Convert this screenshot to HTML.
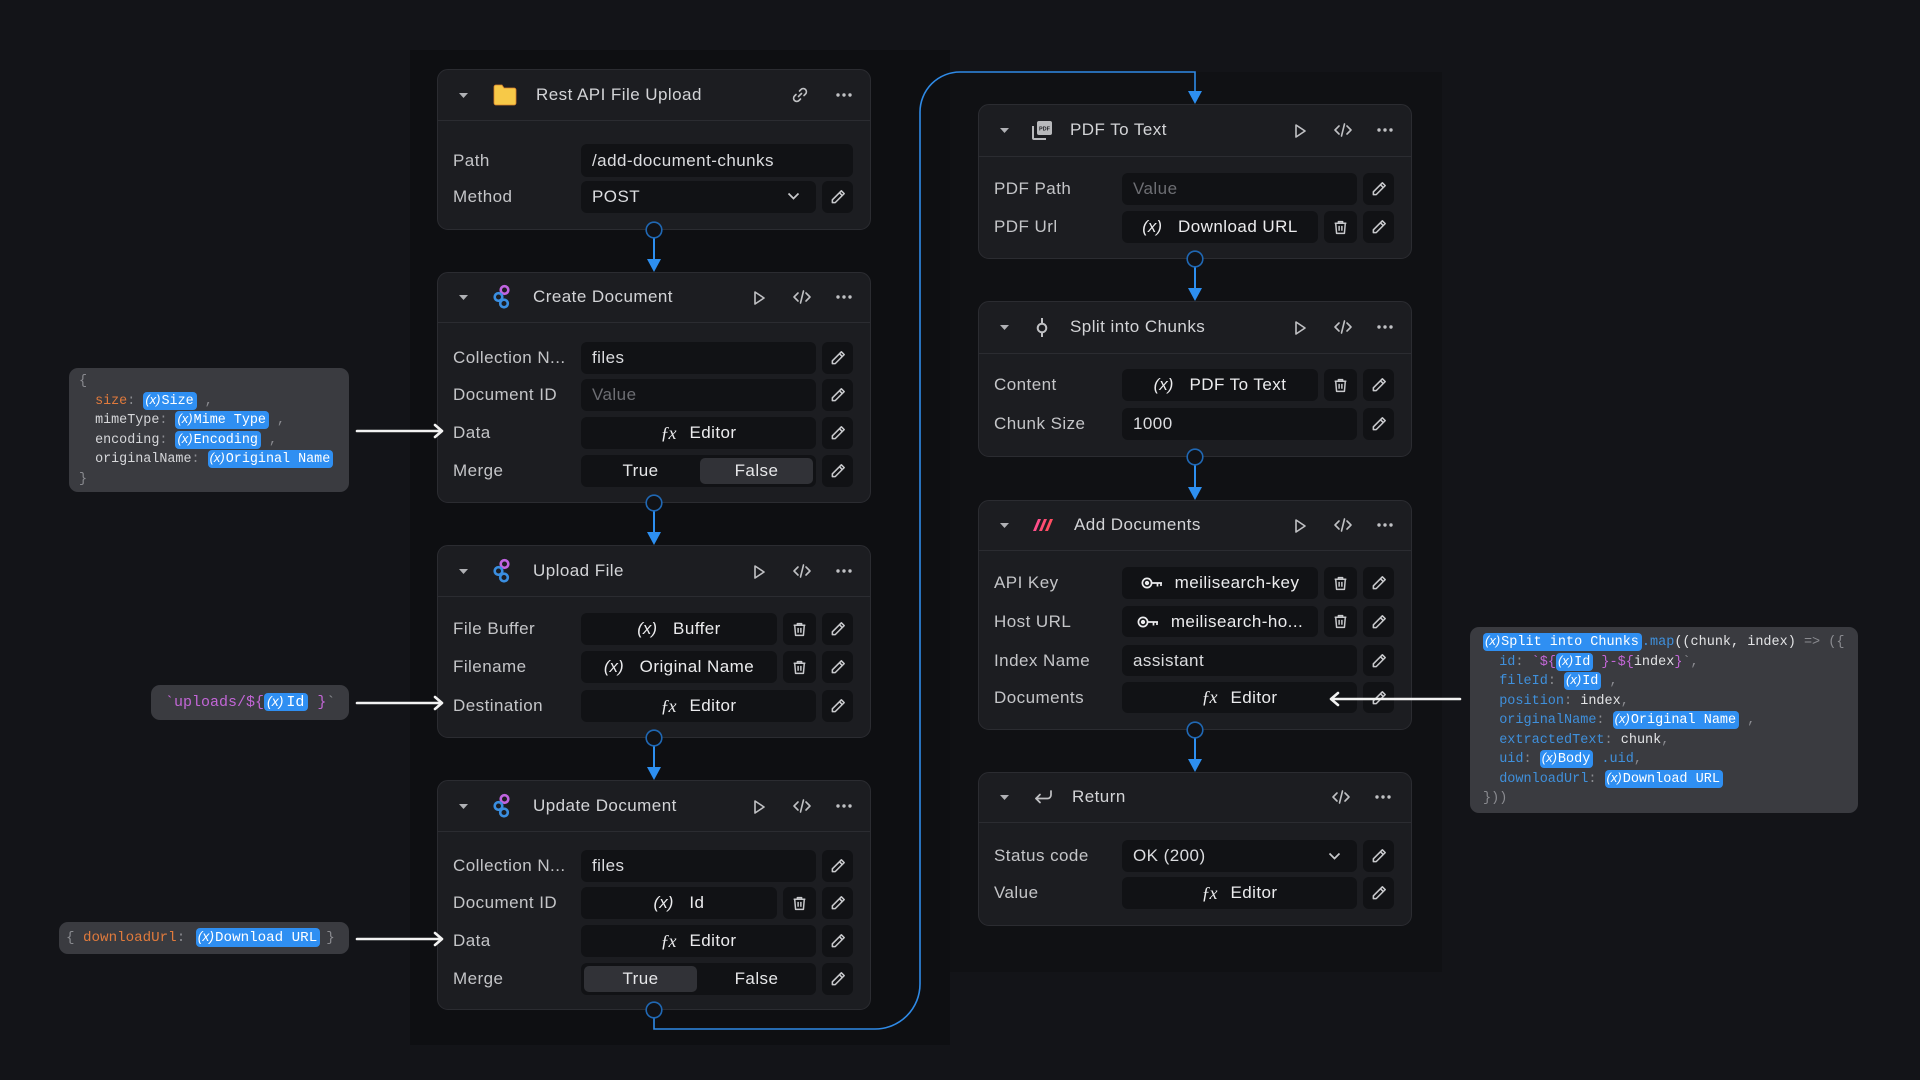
<!DOCTYPE html>
<html>
<head>
<meta charset="utf-8">
<style>
*{box-sizing:border-box}
body{margin:0;width:1920px;height:1080px;background:#131418;position:relative;overflow:hidden;font-family:"Liberation Sans",sans-serif;}
.panel{position:absolute}
.card{position:absolute;width:434px;background:#1c1d21;border:1px solid #2b2c31;border-radius:11px;}
.hdiv{position:absolute;left:0;right:0;height:1px;background:#2b2c31}
.ttl{position:absolute;font-size:17px;color:#d3d4d7;letter-spacing:0.45px;line-height:20px;white-space:nowrap}
.hi{position:absolute}
.row{position:absolute;left:0;width:432px;height:32px}
.lbl{position:absolute;left:15px;top:0;line-height:32px;font-size:17px;color:#c4c5c8;letter-spacing:0.45px;white-space:nowrap}
.box{position:absolute;top:0;height:100%;background:#111215;border-radius:6px;font-size:17px;color:#dcdde0;line-height:32px;letter-spacing:0.45px;white-space:nowrap}
.v{left:143px;width:272px;padding-left:11px}
.vs{left:143px;width:235px}
.vt{left:143px;width:196px}
.tr{left:345px;width:33px;display:flex;align-items:center;justify-content:center}
.ed{left:384px;width:31px;display:flex;align-items:center;justify-content:center}
.pl{padding-left:11px}
.ph{color:#6d6e73}
.c{display:flex;align-items:center;justify-content:center;color:#ececee}
.xv{font-style:italic;margin-right:16px;letter-spacing:0}
.fx{font-family:"Liberation Serif",serif;font-style:italic;margin-right:14px;font-size:18px;letter-spacing:-1px}
.seg{position:absolute;top:3px;height:26px;width:113px;border-radius:5px;text-align:center;line-height:26px;color:#e6e7e9}
.seg.on{background:#313237}
.note{position:absolute;background:#3a3b40;border-radius:9px;font-family:"Liberation Mono",monospace;font-size:13.4px;color:#d6d7da;white-space:pre;line-height:19.5px}
.pill{display:inline-block;background:#2f8ff2;color:#fff;border-radius:4px;line-height:16px;padding:0 3px 0 2px;vertical-align:0px}
.pill i{font-family:"Liberation Sans",sans-serif;font-size:13px;font-style:italic;margin-right:1px}
.g{color:#8a8b90}
.o{color:#e07a3c}
.p{color:#c266d6}
.b{color:#3f90dc}
.w{color:#e3e4e6}
</style>
</head>
<body>

<!-- background panels -->
<div class="panel" style="left:410px;top:50px;width:540px;height:995px;background:#0e0f12"></div>
<div class="panel" style="left:950px;top:72px;width:492px;height:900px;background:#101114"></div>

<!-- ============ LEFT COLUMN ============ -->
<!-- Card L1 -->
<div class="card" style="left:437px;top:69px;height:161px">
  <div class="hdiv" style="top:50px"></div>
  <svg class="hi" style="left:21px;top:23px" width="9" height="5" viewBox="0 0 9 5"><path d="M0 0h9L4.5 5z" fill="#b0b1b5"/></svg>
  <svg class="hi" style="left:55px;top:14px" width="24" height="22" viewBox="0 0 24 22"><path d="M1 3a2 2 0 0 1 2-2h6l2 3h10a2 2 0 0 1 2 2v13a2 2 0 0 1-2 2H3a2 2 0 0 1-2-2z" fill="#f7c948" stroke="#d9822b" stroke-width="0.8"/></svg>
  <div class="ttl" style="left:98px;top:15px">Rest API File Upload</div>
  <svg class="hi" style="left:353px;top:16px" width="18" height="18" viewBox="0 0 18 18" fill="none" stroke="#c0c1c4" stroke-width="1.6" stroke-linecap="round"><path d="M7.5 10.5l3-3"/><path d="M8.5 5l1.5-1.5a3 3 0 0 1 4.5 4.5L13 9.5"/><path d="M9.5 13L8 14.5a3 3 0 0 1-4.5-4.5L5 8.5"/></svg>
  <svg class="hi" style="left:398px;top:23px" width="16" height="4" viewBox="0 0 16 4"><circle cx="2" cy="2" r="1.7" fill="#c0c1c4"/><circle cx="8" cy="2" r="1.7" fill="#c0c1c4"/><circle cx="14" cy="2" r="1.7" fill="#c0c1c4"/></svg>
  <div class="row" style="top:74px;height:33px"><div class="lbl" style="line-height:33px">Path</div><div class="box v" style="line-height:33px">/add-document-chunks</div></div>
  <div class="row" style="top:111px"><div class="lbl">Method</div><div class="box vs pl">POST<svg style="position:absolute;left:206px;top:11px" width="13" height="8" viewBox="0 0 13 8"><path d="M1.5 1.5l5 5 5-5" fill="none" stroke="#c8c9cc" stroke-width="1.7"/></svg></div><div class="box ed"><svg width="18" height="18" viewBox="0 0 16 16" fill="none" stroke="#c8c9cc" stroke-width="1.4" stroke-linejoin="round"><path d="M11 2.5l2.5 2.5L5.5 13H3v-2.5z"/><path d="M9.3 4.2l2.5 2.5"/></svg></div></div>
</div>

<!-- Card L2 -->
<div class="card" style="left:437px;top:272px;height:231px">
  <div class="hdiv" style="top:49px"></div>
  <svg class="hi" style="left:21px;top:22px" width="9" height="5" viewBox="0 0 9 5"><path d="M0 0h9L4.5 5z" fill="#b0b1b5"/></svg>
  <svg class="hi" style="left:54px;top:11px" width="20" height="26" viewBox="0 0 20 26" fill="none" stroke-width="2.6"><circle cx="12.5" cy="6" r="3.8" stroke="#c064e0"/><circle cx="6.5" cy="13" r="3.8" stroke="#3a8ee0"/><circle cx="12" cy="19.5" r="3.8" stroke="#3a8ee0"/></svg>
  <div class="ttl" style="left:95px;top:14px">Create Document</div>
  <svg class="hi" style="left:315px;top:17px" width="13" height="16" viewBox="0 0 13 16"><path d="M2 2l9 6-9 6z" fill="none" stroke="#c0c1c4" stroke-width="1.6" stroke-linejoin="round"/></svg>
  <svg class="hi" style="left:354px;top:16px" width="20" height="16" viewBox="0 0 20 16" fill="none" stroke="#c0c1c4" stroke-width="1.6" stroke-linecap="round" stroke-linejoin="round"><path d="M6 4L2 8l4 4M14 4l4 4-4 4M11.5 2l-3 12"/></svg>
  <svg class="hi" style="left:398px;top:22px" width="16" height="4" viewBox="0 0 16 4"><circle cx="2" cy="2" r="1.7" fill="#c0c1c4"/><circle cx="8" cy="2" r="1.7" fill="#c0c1c4"/><circle cx="14" cy="2" r="1.7" fill="#c0c1c4"/></svg>
  <div class="row" style="top:69px"><div class="lbl">Collection N...</div><div class="box vs pl">files</div><div class="box ed"><svg width="18" height="18" viewBox="0 0 16 16" fill="none" stroke="#c8c9cc" stroke-width="1.4" stroke-linejoin="round"><path d="M11 2.5l2.5 2.5L5.5 13H3v-2.5z"/><path d="M9.3 4.2l2.5 2.5"/></svg></div></div>
  <div class="row" style="top:106px"><div class="lbl">Document ID</div><div class="box vs pl ph">Value</div><div class="box ed"><svg width="18" height="18" viewBox="0 0 16 16" fill="none" stroke="#c8c9cc" stroke-width="1.4" stroke-linejoin="round"><path d="M11 2.5l2.5 2.5L5.5 13H3v-2.5z"/><path d="M9.3 4.2l2.5 2.5"/></svg></div></div>
  <div class="row" style="top:144px"><div class="lbl">Data</div><div class="box vs c"><span class="fx">ƒx</span>Editor</div><div class="box ed"><svg width="18" height="18" viewBox="0 0 16 16" fill="none" stroke="#c8c9cc" stroke-width="1.4" stroke-linejoin="round"><path d="M11 2.5l2.5 2.5L5.5 13H3v-2.5z"/><path d="M9.3 4.2l2.5 2.5"/></svg></div></div>
  <div class="row" style="top:182px"><div class="lbl">Merge</div><div class="box vs"><div class="seg" style="left:3px">True</div><div class="seg on" style="left:119px">False</div></div><div class="box ed"><svg width="18" height="18" viewBox="0 0 16 16" fill="none" stroke="#c8c9cc" stroke-width="1.4" stroke-linejoin="round"><path d="M11 2.5l2.5 2.5L5.5 13H3v-2.5z"/><path d="M9.3 4.2l2.5 2.5"/></svg></div></div>
</div>

<!-- Card L3 -->
<div class="card" style="left:437px;top:545px;height:193px">
  <div class="hdiv" style="top:50px"></div>
  <svg class="hi" style="left:21px;top:23px" width="9" height="5" viewBox="0 0 9 5"><path d="M0 0h9L4.5 5z" fill="#b0b1b5"/></svg>
  <svg class="hi" style="left:54px;top:12px" width="20" height="26" viewBox="0 0 20 26" fill="none" stroke-width="2.6"><circle cx="12.5" cy="6" r="3.8" stroke="#c064e0"/><circle cx="6.5" cy="13" r="3.8" stroke="#3a8ee0"/><circle cx="12" cy="19.5" r="3.8" stroke="#3a8ee0"/></svg>
  <div class="ttl" style="left:95px;top:15px">Upload File</div>
  <svg class="hi" style="left:315px;top:18px" width="13" height="16" viewBox="0 0 13 16"><path d="M2 2l9 6-9 6z" fill="none" stroke="#c0c1c4" stroke-width="1.6" stroke-linejoin="round"/></svg>
  <svg class="hi" style="left:354px;top:17px" width="20" height="16" viewBox="0 0 20 16" fill="none" stroke="#c0c1c4" stroke-width="1.6" stroke-linecap="round" stroke-linejoin="round"><path d="M6 4L2 8l4 4M14 4l4 4-4 4M11.5 2l-3 12"/></svg>
  <svg class="hi" style="left:398px;top:23px" width="16" height="4" viewBox="0 0 16 4"><circle cx="2" cy="2" r="1.7" fill="#c0c1c4"/><circle cx="8" cy="2" r="1.7" fill="#c0c1c4"/><circle cx="14" cy="2" r="1.7" fill="#c0c1c4"/></svg>
  <div class="row" style="top:67px"><div class="lbl">File Buffer</div><div class="box vt c"><span class="xv">(x)</span>Buffer</div><div class="box tr"><svg width="17" height="17" viewBox="0 0 16 16" fill="none" stroke="#c8c9cc" stroke-width="1.4" stroke-linejoin="round"><path d="M2.5 4h11M6 4V2.5h4V4M3.5 4l.8 9.5h7.4l.8-9.5M6.7 6.5v4.5M9.3 6.5v4.5"/></svg></div><div class="box ed"><svg width="18" height="18" viewBox="0 0 16 16" fill="none" stroke="#c8c9cc" stroke-width="1.4" stroke-linejoin="round"><path d="M11 2.5l2.5 2.5L5.5 13H3v-2.5z"/><path d="M9.3 4.2l2.5 2.5"/></svg></div></div>
  <div class="row" style="top:105px"><div class="lbl">Filename</div><div class="box vt c"><span class="xv">(x)</span>Original Name</div><div class="box tr"><svg width="17" height="17" viewBox="0 0 16 16" fill="none" stroke="#c8c9cc" stroke-width="1.4" stroke-linejoin="round"><path d="M2.5 4h11M6 4V2.5h4V4M3.5 4l.8 9.5h7.4l.8-9.5M6.7 6.5v4.5M9.3 6.5v4.5"/></svg></div><div class="box ed"><svg width="18" height="18" viewBox="0 0 16 16" fill="none" stroke="#c8c9cc" stroke-width="1.4" stroke-linejoin="round"><path d="M11 2.5l2.5 2.5L5.5 13H3v-2.5z"/><path d="M9.3 4.2l2.5 2.5"/></svg></div></div>
  <div class="row" style="top:144px"><div class="lbl">Destination</div><div class="box vs c"><span class="fx">ƒx</span>Editor</div><div class="box ed"><svg width="18" height="18" viewBox="0 0 16 16" fill="none" stroke="#c8c9cc" stroke-width="1.4" stroke-linejoin="round"><path d="M11 2.5l2.5 2.5L5.5 13H3v-2.5z"/><path d="M9.3 4.2l2.5 2.5"/></svg></div></div>
</div>

<!-- Card L4 -->
<div class="card" style="left:437px;top:780px;height:230px">
  <div class="hdiv" style="top:50px"></div>
  <svg class="hi" style="left:21px;top:23px" width="9" height="5" viewBox="0 0 9 5"><path d="M0 0h9L4.5 5z" fill="#b0b1b5"/></svg>
  <svg class="hi" style="left:54px;top:12px" width="20" height="26" viewBox="0 0 20 26" fill="none" stroke-width="2.6"><circle cx="12.5" cy="6" r="3.8" stroke="#c064e0"/><circle cx="6.5" cy="13" r="3.8" stroke="#3a8ee0"/><circle cx="12" cy="19.5" r="3.8" stroke="#3a8ee0"/></svg>
  <div class="ttl" style="left:95px;top:15px">Update Document</div>
  <svg class="hi" style="left:315px;top:18px" width="13" height="16" viewBox="0 0 13 16"><path d="M2 2l9 6-9 6z" fill="none" stroke="#c0c1c4" stroke-width="1.6" stroke-linejoin="round"/></svg>
  <svg class="hi" style="left:354px;top:17px" width="20" height="16" viewBox="0 0 20 16" fill="none" stroke="#c0c1c4" stroke-width="1.6" stroke-linecap="round" stroke-linejoin="round"><path d="M6 4L2 8l4 4M14 4l4 4-4 4M11.5 2l-3 12"/></svg>
  <svg class="hi" style="left:398px;top:23px" width="16" height="4" viewBox="0 0 16 4"><circle cx="2" cy="2" r="1.7" fill="#c0c1c4"/><circle cx="8" cy="2" r="1.7" fill="#c0c1c4"/><circle cx="14" cy="2" r="1.7" fill="#c0c1c4"/></svg>
  <div class="row" style="top:69px"><div class="lbl">Collection N...</div><div class="box vs pl">files</div><div class="box ed"><svg width="18" height="18" viewBox="0 0 16 16" fill="none" stroke="#c8c9cc" stroke-width="1.4" stroke-linejoin="round"><path d="M11 2.5l2.5 2.5L5.5 13H3v-2.5z"/><path d="M9.3 4.2l2.5 2.5"/></svg></div></div>
  <div class="row" style="top:106px"><div class="lbl">Document ID</div><div class="box vt c"><span class="xv">(x)</span>Id</div><div class="box tr"><svg width="17" height="17" viewBox="0 0 16 16" fill="none" stroke="#c8c9cc" stroke-width="1.4" stroke-linejoin="round"><path d="M2.5 4h11M6 4V2.5h4V4M3.5 4l.8 9.5h7.4l.8-9.5M6.7 6.5v4.5M9.3 6.5v4.5"/></svg></div><div class="box ed"><svg width="18" height="18" viewBox="0 0 16 16" fill="none" stroke="#c8c9cc" stroke-width="1.4" stroke-linejoin="round"><path d="M11 2.5l2.5 2.5L5.5 13H3v-2.5z"/><path d="M9.3 4.2l2.5 2.5"/></svg></div></div>
  <div class="row" style="top:144px"><div class="lbl">Data</div><div class="box vs c"><span class="fx">ƒx</span>Editor</div><div class="box ed"><svg width="18" height="18" viewBox="0 0 16 16" fill="none" stroke="#c8c9cc" stroke-width="1.4" stroke-linejoin="round"><path d="M11 2.5l2.5 2.5L5.5 13H3v-2.5z"/><path d="M9.3 4.2l2.5 2.5"/></svg></div></div>
  <div class="row" style="top:182px"><div class="lbl">Merge</div><div class="box vs"><div class="seg on" style="left:3px">True</div><div class="seg" style="left:119px">False</div></div><div class="box ed"><svg width="18" height="18" viewBox="0 0 16 16" fill="none" stroke="#c8c9cc" stroke-width="1.4" stroke-linejoin="round"><path d="M11 2.5l2.5 2.5L5.5 13H3v-2.5z"/><path d="M9.3 4.2l2.5 2.5"/></svg></div></div>
</div>

<!-- ============ RIGHT COLUMN ============ -->
<!-- Card R1 -->
<div class="card" style="left:978px;top:104px;height:155px">
  <div class="hdiv" style="top:51px"></div>
  <svg class="hi" style="left:21px;top:23px" width="9" height="5" viewBox="0 0 9 5"><path d="M0 0h9L4.5 5z" fill="#b0b1b5"/></svg>
  <svg class="hi" style="left:52px;top:14px" width="22" height="22" viewBox="0 0 22 22"><path d="M2 7v12a1 1 0 0 0 1 1h12" fill="none" stroke="#b8b9bc" stroke-width="2"/><rect x="6" y="2" width="15" height="14" rx="2" fill="#b8b9bc"/><text x="13.5" y="11.5" font-family="Liberation Sans" font-size="5.5" font-weight="bold" fill="#1c1d21" text-anchor="middle">PDF</text></svg>
  <div class="ttl" style="left:91px;top:15px">PDF To Text</div>
  <svg class="hi" style="left:315px;top:18px" width="13" height="16" viewBox="0 0 13 16"><path d="M2 2l9 6-9 6z" fill="none" stroke="#c0c1c4" stroke-width="1.6" stroke-linejoin="round"/></svg>
  <svg class="hi" style="left:354px;top:17px" width="20" height="16" viewBox="0 0 20 16" fill="none" stroke="#c0c1c4" stroke-width="1.6" stroke-linecap="round" stroke-linejoin="round"><path d="M6 4L2 8l4 4M14 4l4 4-4 4M11.5 2l-3 12"/></svg>
  <svg class="hi" style="left:398px;top:23px" width="16" height="4" viewBox="0 0 16 4"><circle cx="2" cy="2" r="1.7" fill="#c0c1c4"/><circle cx="8" cy="2" r="1.7" fill="#c0c1c4"/><circle cx="14" cy="2" r="1.7" fill="#c0c1c4"/></svg>
  <div class="row" style="top:68px"><div class="lbl">PDF Path</div><div class="box vs pl ph">Value</div><div class="box ed"><svg width="18" height="18" viewBox="0 0 16 16" fill="none" stroke="#c8c9cc" stroke-width="1.4" stroke-linejoin="round"><path d="M11 2.5l2.5 2.5L5.5 13H3v-2.5z"/><path d="M9.3 4.2l2.5 2.5"/></svg></div></div>
  <div class="row" style="top:106px"><div class="lbl">PDF Url</div><div class="box vt c"><span class="xv">(x)</span>Download URL</div><div class="box tr"><svg width="17" height="17" viewBox="0 0 16 16" fill="none" stroke="#c8c9cc" stroke-width="1.4" stroke-linejoin="round"><path d="M2.5 4h11M6 4V2.5h4V4M3.5 4l.8 9.5h7.4l.8-9.5M6.7 6.5v4.5M9.3 6.5v4.5"/></svg></div><div class="box ed"><svg width="18" height="18" viewBox="0 0 16 16" fill="none" stroke="#c8c9cc" stroke-width="1.4" stroke-linejoin="round"><path d="M11 2.5l2.5 2.5L5.5 13H3v-2.5z"/><path d="M9.3 4.2l2.5 2.5"/></svg></div></div>
</div>

<!-- Card R2 -->
<div class="card" style="left:978px;top:301px;height:156px">
  <div class="hdiv" style="top:51px"></div>
  <svg class="hi" style="left:21px;top:23px" width="9" height="5" viewBox="0 0 9 5"><path d="M0 0h9L4.5 5z" fill="#b0b1b5"/></svg>
  <svg class="hi" style="left:56px;top:14px" width="14" height="22" viewBox="0 0 14 22" fill="none" stroke="#c0c1c4" stroke-width="2"><circle cx="7" cy="12" r="4.3"/><path d="M7 2v5.7M7 16.3V21"/></svg>
  <div class="ttl" style="left:91px;top:15px">Split into Chunks</div>
  <svg class="hi" style="left:315px;top:18px" width="13" height="16" viewBox="0 0 13 16"><path d="M2 2l9 6-9 6z" fill="none" stroke="#c0c1c4" stroke-width="1.6" stroke-linejoin="round"/></svg>
  <svg class="hi" style="left:354px;top:17px" width="20" height="16" viewBox="0 0 20 16" fill="none" stroke="#c0c1c4" stroke-width="1.6" stroke-linecap="round" stroke-linejoin="round"><path d="M6 4L2 8l4 4M14 4l4 4-4 4M11.5 2l-3 12"/></svg>
  <svg class="hi" style="left:398px;top:23px" width="16" height="4" viewBox="0 0 16 4"><circle cx="2" cy="2" r="1.7" fill="#c0c1c4"/><circle cx="8" cy="2" r="1.7" fill="#c0c1c4"/><circle cx="14" cy="2" r="1.7" fill="#c0c1c4"/></svg>
  <div class="row" style="top:67px"><div class="lbl">Content</div><div class="box vt c"><span class="xv">(x)</span>PDF To Text</div><div class="box tr"><svg width="17" height="17" viewBox="0 0 16 16" fill="none" stroke="#c8c9cc" stroke-width="1.4" stroke-linejoin="round"><path d="M2.5 4h11M6 4V2.5h4V4M3.5 4l.8 9.5h7.4l.8-9.5M6.7 6.5v4.5M9.3 6.5v4.5"/></svg></div><div class="box ed"><svg width="18" height="18" viewBox="0 0 16 16" fill="none" stroke="#c8c9cc" stroke-width="1.4" stroke-linejoin="round"><path d="M11 2.5l2.5 2.5L5.5 13H3v-2.5z"/><path d="M9.3 4.2l2.5 2.5"/></svg></div></div>
  <div class="row" style="top:106px"><div class="lbl">Chunk Size</div><div class="box vs pl">1000</div><div class="box ed"><svg width="18" height="18" viewBox="0 0 16 16" fill="none" stroke="#c8c9cc" stroke-width="1.4" stroke-linejoin="round"><path d="M11 2.5l2.5 2.5L5.5 13H3v-2.5z"/><path d="M9.3 4.2l2.5 2.5"/></svg></div></div>
</div>

<!-- Card R3 -->
<div class="card" style="left:978px;top:500px;height:230px">
  <div class="hdiv" style="top:49px"></div>
  <svg class="hi" style="left:21px;top:22px" width="9" height="5" viewBox="0 0 9 5"><path d="M0 0h9L4.5 5z" fill="#b0b1b5"/></svg>
  <svg class="hi" style="left:53px;top:17px" width="22" height="14" viewBox="0 0 22 14"><polygon points="1,13 6,1 9,1 4,13" fill="#ff4f8b"/><polygon points="7,13 12,1 15,1 10,13" fill="#ff4d74"/><polygon points="13,13 18,1 21,1 16,13" fill="#ff4e62"/></svg>
  <div class="ttl" style="left:95px;top:14px">Add Documents</div>
  <svg class="hi" style="left:315px;top:17px" width="13" height="16" viewBox="0 0 13 16"><path d="M2 2l9 6-9 6z" fill="none" stroke="#c0c1c4" stroke-width="1.6" stroke-linejoin="round"/></svg>
  <svg class="hi" style="left:354px;top:16px" width="20" height="16" viewBox="0 0 20 16" fill="none" stroke="#c0c1c4" stroke-width="1.6" stroke-linecap="round" stroke-linejoin="round"><path d="M6 4L2 8l4 4M14 4l4 4-4 4M11.5 2l-3 12"/></svg>
  <svg class="hi" style="left:398px;top:22px" width="16" height="4" viewBox="0 0 16 4"><circle cx="2" cy="2" r="1.7" fill="#c0c1c4"/><circle cx="8" cy="2" r="1.7" fill="#c0c1c4"/><circle cx="14" cy="2" r="1.7" fill="#c0c1c4"/></svg>
  <div class="row" style="top:66px"><div class="lbl">API Key</div><div class="box vt c"><svg style="margin-right:12px" width="22" height="14" viewBox="0 0 22 14" fill="none" stroke="#ececee" stroke-width="1.7"><circle cx="6" cy="7" r="4.6"/><circle cx="6" cy="7" r="1.3" fill="#ececee"/><path d="M10.6 7H21M16.5 7v3.5M20 7v3"/></svg>meilisearch-key</div><div class="box tr"><svg width="17" height="17" viewBox="0 0 16 16" fill="none" stroke="#c8c9cc" stroke-width="1.4" stroke-linejoin="round"><path d="M2.5 4h11M6 4V2.5h4V4M3.5 4l.8 9.5h7.4l.8-9.5M6.7 6.5v4.5M9.3 6.5v4.5"/></svg></div><div class="box ed"><svg width="18" height="18" viewBox="0 0 16 16" fill="none" stroke="#c8c9cc" stroke-width="1.4" stroke-linejoin="round"><path d="M11 2.5l2.5 2.5L5.5 13H3v-2.5z"/><path d="M9.3 4.2l2.5 2.5"/></svg></div></div>
  <div class="row" style="top:105px;height:31px"><div class="lbl" style="line-height:31px">Host URL</div><div class="box vt c" style="line-height:31px"><svg style="margin-right:12px" width="22" height="14" viewBox="0 0 22 14" fill="none" stroke="#ececee" stroke-width="1.7"><circle cx="6" cy="7" r="4.6"/><circle cx="6" cy="7" r="1.3" fill="#ececee"/><path d="M10.6 7H21M16.5 7v3.5M20 7v3"/></svg>meilisearch-ho...</div><div class="box tr"><svg width="17" height="17" viewBox="0 0 16 16" fill="none" stroke="#c8c9cc" stroke-width="1.4" stroke-linejoin="round"><path d="M2.5 4h11M6 4V2.5h4V4M3.5 4l.8 9.5h7.4l.8-9.5M6.7 6.5v4.5M9.3 6.5v4.5"/></svg></div><div class="box ed"><svg width="18" height="18" viewBox="0 0 16 16" fill="none" stroke="#c8c9cc" stroke-width="1.4" stroke-linejoin="round"><path d="M11 2.5l2.5 2.5L5.5 13H3v-2.5z"/><path d="M9.3 4.2l2.5 2.5"/></svg></div></div>
  <div class="row" style="top:144px;height:31px"><div class="lbl" style="line-height:31px">Index Name</div><div class="box vs pl" style="line-height:31px">assistant</div><div class="box ed"><svg width="18" height="18" viewBox="0 0 16 16" fill="none" stroke="#c8c9cc" stroke-width="1.4" stroke-linejoin="round"><path d="M11 2.5l2.5 2.5L5.5 13H3v-2.5z"/><path d="M9.3 4.2l2.5 2.5"/></svg></div></div>
  <div class="row" style="top:181px;height:31px"><div class="lbl" style="line-height:31px">Documents</div><div class="box vs c" style="line-height:31px"><span class="fx">ƒx</span>Editor</div><div class="box ed"><svg width="18" height="18" viewBox="0 0 16 16" fill="none" stroke="#c8c9cc" stroke-width="1.4" stroke-linejoin="round"><path d="M11 2.5l2.5 2.5L5.5 13H3v-2.5z"/><path d="M9.3 4.2l2.5 2.5"/></svg></div></div>
</div>

<!-- Card R4 -->
<div class="card" style="left:978px;top:772px;height:154px">
  <div class="hdiv" style="top:49px"></div>
  <svg class="hi" style="left:21px;top:22px" width="9" height="5" viewBox="0 0 9 5"><path d="M0 0h9L4.5 5z" fill="#b0b1b5"/></svg>
  <svg class="hi" style="left:54px;top:16px" width="22" height="16" viewBox="0 0 22 16" fill="none" stroke="#c0c1c4" stroke-width="1.7" stroke-linecap="round" stroke-linejoin="round"><path d="M18 2v4a3.5 3.5 0 0 1-3.5 3.5H3"/><path d="M7 5.5L3 9.5l4 4"/></svg>
  <div class="ttl" style="left:93px;top:14px">Return</div>
  <svg class="hi" style="left:352px;top:16px" width="20" height="16" viewBox="0 0 20 16" fill="none" stroke="#c0c1c4" stroke-width="1.6" stroke-linecap="round" stroke-linejoin="round"><path d="M6 4L2 8l4 4M14 4l4 4-4 4M11.5 2l-3 12"/></svg>
  <svg class="hi" style="left:396px;top:22px" width="16" height="4" viewBox="0 0 16 4"><circle cx="2" cy="2" r="1.7" fill="#c0c1c4"/><circle cx="8" cy="2" r="1.7" fill="#c0c1c4"/><circle cx="14" cy="2" r="1.7" fill="#c0c1c4"/></svg>
  <div class="row" style="top:67px"><div class="lbl">Status code</div><div class="box vs pl">OK (200)<svg style="position:absolute;left:206px;top:12px" width="13" height="8" viewBox="0 0 13 8"><path d="M1.5 1.5l5 5 5-5" fill="none" stroke="#c8c9cc" stroke-width="1.7"/></svg></div><div class="box ed"><svg width="18" height="18" viewBox="0 0 16 16" fill="none" stroke="#c8c9cc" stroke-width="1.4" stroke-linejoin="round"><path d="M11 2.5l2.5 2.5L5.5 13H3v-2.5z"/><path d="M9.3 4.2l2.5 2.5"/></svg></div></div>
  <div class="row" style="top:104px"><div class="lbl">Value</div><div class="box vs c"><span class="fx">ƒx</span>Editor</div><div class="box ed"><svg width="18" height="18" viewBox="0 0 16 16" fill="none" stroke="#c8c9cc" stroke-width="1.4" stroke-linejoin="round"><path d="M11 2.5l2.5 2.5L5.5 13H3v-2.5z"/><path d="M9.3 4.2l2.5 2.5"/></svg></div></div>
</div>

<!-- ============ ANNOTATIONS ============ -->
<div class="note" style="left:69px;top:368px;width:280px;height:124px;padding:4px 0 0 10px"><span class="g">{</span>
  <span class="o">size</span><span class="g">:</span> <span class="pill"><i>(x)</i>Size</span><span class="g"> ,</span>
  mimeType<span class="g">:</span> <span class="pill"><i>(x)</i>Mime Type</span><span class="g"> ,</span>
  encoding<span class="g">:</span> <span class="pill"><i>(x)</i>Encoding</span><span class="g"> ,</span>
  originalName<span class="g">:</span> <span class="pill"><i>(x)</i>Original Name</span>
<span class="g">}</span></div>

<div class="note" style="left:151px;top:685px;width:198px;height:35px;padding:8px 0 0 14px;line-height:19px;font-size:15px"><span class="p">`uploads/${</span><span class="pill" style="line-height:17px;padding:0 4px 0 3px"><i style="font-size:14px;margin-right:3px">(x)</i>Id</span><span class="p"> }</span><span class="g">`</span></div>

<div class="note" style="left:59px;top:922px;width:290px;height:32px;padding:6px 0 0 7px;line-height:20px;font-size:14.2px"><span class="g">{ </span><span class="o">downloadUrl</span><span class="g">:</span> <span class="pill" style="line-height:17px;margin-left:2px"><i style="font-size:14px">(x)</i>Download URL</span><span class="g" style="margin-left:6px">}</span></div>

<div class="note" style="left:1470px;top:627px;width:388px;height:186px;padding:6px 0 0 13px;font-size:13.5px"><span class="pill"><i>(x)</i>Split into Chunks</span><span class="b">.map</span><span class="w">((chunk, index)</span><span class="g"> =&gt; ({</span>
  <span class="b">id</span><span class="g">:</span> <span class="p">`${</span><span class="pill"><i>(x)</i>Id</span><span class="p"> }-${</span><span class="w">index</span><span class="p">}</span><span class="g">`,</span>
  <span class="b">fileId</span><span class="g">:</span> <span class="pill"><i>(x)</i>Id</span><span class="g"> ,</span>
  <span class="b">position</span><span class="g">:</span> <span class="w">index</span><span class="g">,</span>
  <span class="b">originalName</span><span class="g">:</span> <span class="pill"><i>(x)</i>Original Name</span><span class="g"> ,</span>
  <span class="b">extractedText</span><span class="g">:</span> <span class="w">chunk</span><span class="g">,</span>
  <span class="b">uid</span><span class="g">:</span> <span class="pill"><i>(x)</i>Body</span><span class="b"> .uid</span><span class="g">,</span>
  <span class="b">downloadUrl</span><span class="g">:</span> <span class="pill"><i>(x)</i>Download URL</span>
<span class="g">}))</span></div>

<!-- ============ WIRES / CONNECTORS ============ -->
<svg style="position:absolute;left:0;top:0" width="1920" height="1080" viewBox="0 0 1920 1080">
  <path d="M654 1018 V1029 H875 A45 45 0 0 0 920 984 V112 A40 40 0 0 1 960 72 H1195 V92" fill="none" stroke="#2f8ae6" stroke-width="1.6"/>
  <polygon points="1188,91 1202,91 1195,104" fill="#2d8ff0"/>

  <g stroke="#2d8ff0" stroke-width="2" fill="none">
    <path d="M654 238 V260"/><path d="M654 511 V533"/><path d="M654 746 V768"/>
    <path d="M1195 267 V289"/><path d="M1195 465 V488"/><path d="M1195 738 V760"/>
  </g>
  <g fill="#2d8ff0">
    <polygon points="647,259 661,259 654,272"/>
    <polygon points="647,532 661,532 654,545"/>
    <polygon points="647,767 661,767 654,780"/>
    <polygon points="1188,288 1202,288 1195,301"/>
    <polygon points="1188,487 1202,487 1195,500"/>
    <polygon points="1188,759 1202,759 1195,772"/>
  </g>
  <g fill="#111216" stroke="#2068b4" stroke-width="1.6">
    <circle cx="654" cy="230" r="7.8"/>
    <circle cx="654" cy="503" r="7.8"/>
    <circle cx="654" cy="738" r="7.8"/>
    <circle cx="654" cy="1010" r="7.8"/>
    <circle cx="1195" cy="259" r="7.8"/>
    <circle cx="1195" cy="457" r="7.8"/>
    <circle cx="1195" cy="730" r="7.8"/>
  </g>

  <g stroke="#f2f2f2" stroke-width="2.6" fill="none" stroke-linecap="round" stroke-linejoin="round">
    <path d="M357 431 H441"/><path d="M435 425 L442 431 L435 437"/>
    <path d="M357 703 H441"/><path d="M435 697 L442 703 L435 709"/>
    <path d="M357 939 H441"/><path d="M435 933 L442 939 L435 945"/>
    <path d="M1460 699 H1332"/><path d="M1338 693 L1331 699 L1338 705"/>
  </g>
</svg>

</body>
</html>
